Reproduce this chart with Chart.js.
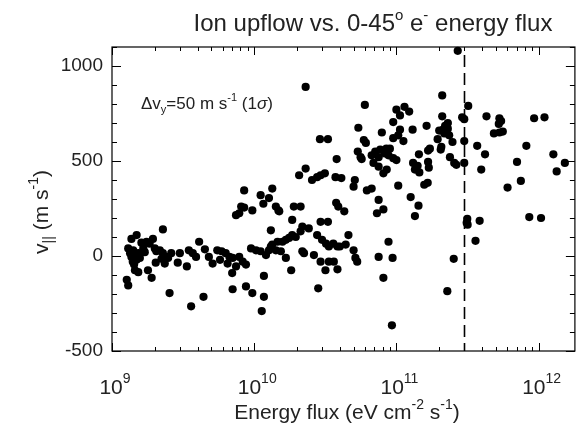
<!DOCTYPE html>
<html>
<head>
<meta charset="utf-8">
<script src="https://cdn.jsdelivr.net/npm/chart.js@4.4.1/dist/chart.umd.min.js"></script>
<style>
  html, body { margin: 0; padding: 0; background: #fff; }
  canvas { display: block; }
</style>
</head>
<body>
<canvas id="chart" width="579" height="425"></canvas>
<script>
// ── data ─────────────────────────────────────────────────
const energyFlux = [
  1.3e9, 1.27e9, 1.3e9, 1.37e9, 1.49e9, 1.34e9, 1.37e9, 1.41e9, 1.45e9, 1.40e9,
  1.43e9, 1.49e9, 1.53e9, 1.45e9, 1.53e9, 1.61e9, 1.66e9, 1.75e9, 1.84e9, 1.94e9,
  2.0e9, 1.79e9, 1.9e9, 2.05e9, 2.17e9, 2.28e9, 2.41e9, 2.23e9, 2.03e9, 1.57e9,
  1.7e9, 2.28e9, 2.54e9, 2.61e9, 2.48e9, 2.35e9, 3.0e9, 2.9e9, 3.36e9, 3.47e9,
  3.7e9, 3.9e9, 4.1e9, 3.6e9, 4.4e9, 4.5e9, 4.8e9, 5.1e9, 5.5e9, 5.9e9,
  5.75e9, 6.3e9, 6.7e9, 6.5e9, 7.0e9, 7.05e9, 7.45e9, 7.05e9, 7.45e9,
  2.3e10, 6.0e10, 5.4e10, 7.9e10, 2.9e10, 3.3e10, 5.9e10, 6.1e10, 3.8e10, 5.35e10,
  5.6e10, 5.7e10, 6.7e10, 7.1e10, 7.5e10, 7.7e10, 8.3e10, 8.5e10, 6.9e10, 7.5e10,
  8.1e10, 8.55e10, 2.3e10, 2.07e10, 2.55e10, 2.77e10, 2.93e10, 3.14e10, 3.73e10, 4.1e10,
  5.1e10, 5.0e10, 6.2e10, 6.7e10, 7.5e10, 8.1e10, 7.3e10, 3.77e10, 3.9e10, 4.3e10,
  2.93e10, 3.3e10, 1.9e10, 2.12e10, 1.85e10, 1.34e10, 1.11e10, 1.27e10, 1.16e10, 1.42e10,
  1.48e10, 1.5e10, 8.5e9, 8.1e9, 8.5e9, 9.7e9, 7.85e9, 1.31e10,
  2.18e10, 2.42e10, 2.12e10, 1.96e10, 1.85e10, 1.76e10, 1.67e10, 1.58e10, 1.46e10, 1.34e10,
  1.42e10, 1.54e10, 1.31e10, 1.27e10, 2.77e10, 3.0e10, 3.2e10, 3.35e10, 3.6e10, 3.85e10,
  4.0e10, 4.4e10, 4.6e10, 5.0e10, 5.15e10, 5.3e10, 9.5e9, 1.03e10, 1.11e10, 1.21e10,
  1.67e10, 7.85e9, 8.3e9, 8.75e9, 2.18e10, 2.24e10, 2.63e10, 2.93e10, 3.35e10, 3.63e10,
  3.17e10, 3.85e10, 1.82e10, 1.17e10, 8.75e9, 9.7e9, 1.17e10, 2.82e10, 1.13e10, 7.5e10,
  8.1e10,
  2.7e11, 2.1e11, 1.14e11, 1.0e11, 1.06e11, 1.23e11, 9.5e10, 3.2e11, 2.1e11, 2.9e11,
  3.0e11, 4.3e11, 5.3e11, 5.45e11, 5.25e11, 9.3e11, 1.1e12,
  2.3e11, 2.2e11, 2.3e11, 2.13e11, 2.0e11, 2.17e11, 2.35e11, 1.95e11, 2.48e11, 2.07e11,
  2.05e11, 1.63e11, 1.3e11, 1.06e11, 1.03e11, 9.5e10, 1.12e11, 4.85e11, 5.3e11, 5.6e11,
  3.0e11, 3.7e11, 1.72e11, 1.67e11, 9.0e10, 8.8e10, 9.5e10, 1.0e11, 1.44e11, 4.2e11,
  8.2e11, 1.27e12, 2.38e11, 1.67e11, 1.69e11, 1.31e11, 1.41e11, 1.35e11, 1.45e11, 2.55e11,
  2.64e11, 3.0e11, 7.05e11, 1.53e12, 3.95e11, 1.34e12, 1.57e11, 1.66e11, 1.03e11, 6.05e11,
  7.5e11, 1.26e11, 1.43e11, 1.35e11, 3.15e11, 3.17e11, 3.12e11, 3.85e11, 8.6e11, 1.04e12,
  3.6e11, 8.8e10, 9.4e10, 2.53e11, 2.28e11, 9.3e10
];
const vParallel = [
  40, -125, -155, 90, 110, 15, -5, 30, 5, -30,
  -45, -20, 15, -75, -85, 70, 40, 75, 65, 90,
  40, -75, -115, 25, 30, 15, -5, -15, -35, -10,
  20, 140, -195, 15, -10, -40, 15, -35, -55, 30,
  15, -5, 75, -265, -215, 35, -5, -40, 30, 25,
  -20, 15, -5, -40, -90, -10, -55, -175, 215,
  890, 795, 675, 650, 615, 615, 610, 595, 510, 550,
  520, 510, 530, 550, 520, 560, 540, 565, 490, 470,
  435, 455, 460, 425, 400, 415, 425, 435, 415, 410,
  400, 365, 345, 355, 295, 245, 225, 280, 260, 235,
  180, 180, 260, 260, 190, 355, 320, 305, 275, 260,
  240, 235, 345, 260, 255, 240, 225, 135,
  155, 145, 130, 100, 110, 95, 85, 75, 75, 60,
  30, 25, 50, 30, 110, 85, 65, 50, 65, 50,
  50, 60, 110, 30, -10, -30, 40, 30, 25, 5,
  -10, -5, -30, -45, 25, 15, 5, -30, -30, -30,
  -75, -70, -75, -105, -160, -195, -215, -170, -290, -5,
  -115,
  1080, 845, 785, 770, 740, 760, 705, 790, 735, 730,
  720, 735, 725, 710, 695, 725, 730,
  700, 685, 670, 665, 660, 645, 635, 615, 600, 575,
  560, 685, 665, 665, 635, 620, 605, 645, 650, 655,
  605, 580, 565, 555, 565, 530, 515, 505, 535, 535,
  580, 535, 520, 495, 465, 490, 475, 455, 440, 490,
  480, 490, 495, 490, 455, 445, 375, 385, 370, 360,
  395, 310, 265, 210, 195, 165, 175, 185, 205, 200,
  80, 75, -10, -15, -185, -365
];

const fluxTicks    = [1e9, 1e10, 1e11, 1e12];
const fluxTickExp  = ['9', '10', '11', '12'];
const velTicks     = [-500, 0, 500, 1000];
const fluxRange    = [1e9, 1.8e12];
const velRange     = [-500, 1100];
const fluxCutoff   = 3e11;   // dashed line

const FONT = "'Liberation Sans', Arial, Helvetica, sans-serif";
const INK  = '#222';

function fnt(s) {
  return (s.italic ? 'italic ' : '') + s.size + 'px ' + FONT;
}

// draws a run of text pieces (for super/subscripts)
function drawRich(ctx, segs, x, y, align) {
  let w = 0;
  segs.forEach(s => { ctx.font = fnt(s); w += ctx.measureText(s.t).width; });
  let cx = align === 'center' ? x - w / 2 : align === 'right' ? x - w : x;
  segs.forEach(s => {
    ctx.font = fnt(s);
    ctx.fillText(s.t, cx, y + (s.dy || 0));
    cx += ctx.measureText(s.t).width;
  });
}

// IDL-like frame: inward ticks on all four sides, labels, dashed cutoff
const idlFrame = {
  id: 'idlFrame',
  afterDraw(chart) {
    const { ctx, chartArea: a, scales: { x, y } } = chart;
    ctx.save();
    ctx.strokeStyle = '#000';
    ctx.fillStyle = INK;
    ctx.lineWidth = 1.2;
    ctx.strokeRect(a.left, a.top, a.right - a.left, a.bottom - a.top);

    ctx.lineWidth = 1;
    ctx.beginPath();
    // x ticks
    fluxTicks.forEach(dec => {
      for (let m = 1; m <= 9; m++) {
        const v = dec * m;
        if (v < fluxRange[0] || v > fluxRange[1]) continue;
        const px = Math.round(x.getPixelForValue(v)) + 0.5;
        const len = m === 1 ? 8 : 4;
        ctx.moveTo(px, a.bottom); ctx.lineTo(px, a.bottom - len);
        ctx.moveTo(px, a.top);    ctx.lineTo(px, a.top + len);
      }
    });
    // y ticks every 100, major every 500
    for (let v = velRange[0]; v <= velRange[1]; v += 100) {
      const py = Math.round(y.getPixelForValue(v)) + 0.5;
      const len = velTicks.includes(v) ? 9 : 5;
      ctx.moveTo(a.left, py);  ctx.lineTo(a.left + len, py);
      ctx.moveTo(a.right, py); ctx.lineTo(a.right - len, py);
    }
    ctx.stroke();

    // dashed cutoff line
    const cx = Math.round(x.getPixelForValue(fluxCutoff)) + 0.5;
    ctx.setLineDash([12, 6]);
    ctx.lineWidth = 1.6;
    ctx.beginPath();
    ctx.moveTo(cx, a.top + 8); ctx.lineTo(cx, a.bottom);
    ctx.stroke();
    ctx.setLineDash([]);

    ctx.textBaseline = 'alphabetic';
    // x tick labels 10^n
    fluxTicks.forEach((v, i) => {
      drawRich(ctx, [
        { t: '10', size: 21 },
        { t: fluxTickExp[i], size: 14, dy: -11 }
      ], x.getPixelForValue(v) + 3, 394, 'center');
    });

    // title
    drawRich(ctx, [
      { t: 'Ion upflow vs. 0-45', size: 24 },
      { t: 'o', size: 15, dy: -11 },
      { t: ' e', size: 24 },
      { t: '-', size: 15, dy: -11 },
      { t: ' energy flux', size: 24 }
    ], 373, 31, 'center');

    // x axis title
    drawRich(ctx, [
      { t: 'Energy flux (eV cm', size: 21 },
      { t: '-2', size: 14, dy: -10 },
      { t: ' s', size: 21 },
      { t: '-1', size: 14, dy: -10 },
      { t: ')', size: 21 }
    ], 347, 419, 'center');

    // y axis title (rotated)
    ctx.save();
    ctx.translate(48, 212);
    ctx.rotate(-Math.PI / 2);
    drawRich(ctx, [
      { t: 'v', size: 21 },
      { t: '||', size: 14, dy: 5 },
      { t: ' (m s', size: 21 },
      { t: '-1', size: 14, dy: -10 },
      { t: ')', size: 21 }
    ], 0, 0, 'center');
    ctx.restore();

    // error annotation
    drawRich(ctx, [
      { t: '\u0394v', size: 17 },
      { t: 'y', size: 11, dy: 4 },
      { t: '=50 m s', size: 17 },
      { t: '-1', size: 11, dy: -8 },
      { t: ' (1', size: 17 },
      { t: '\u03c3', size: 17, italic: true },
      { t: ')', size: 17 }
    ], 141, 109, 'left');

    ctx.restore();
  }
};

Chart.defaults.font.family = FONT;

new Chart(document.getElementById('chart'), {
  type: 'scatter',
  data: {
    datasets: [{
      data: energyFlux.map((f, i) => ({ x: f, y: vParallel[i] })),
      backgroundColor: '#000',
      borderColor: '#000',
      borderWidth: 0,
      pointRadius: 4.1,
      clip: false
    }]
  },
  options: {
    responsive: false,
    animation: false,
    layout: { padding: { top: 47, right: 1, left: 0, bottom: 0 } },
    plugins: {
      legend: { display: false },
      tooltip: { enabled: false }
    },
    scales: {
      x: {
        type: 'logarithmic',
        min: fluxRange[0],
        max: fluxRange[1],
        grid: { display: false },
        border: { display: false },
        ticks: { display: false },
        afterBuildTicks: s => { s.ticks = fluxTicks.map(v => ({ value: v })); },
        afterFit: s => { s.height = 74; }
      },
      y: {
        min: velRange[0],
        max: velRange[1],
        grid: { display: false, drawTicks: false },
        border: { display: false },
        ticks: { color: INK, font: { size: 19 }, padding: 9, callback: v => String(v) },
        afterBuildTicks: s => { s.ticks = velTicks.map(v => ({ value: v })); },
        afterFit: s => { s.width = 112; }
      }
    }
  },
  plugins: [idlFrame]
});
</script>
</body>
</html>
